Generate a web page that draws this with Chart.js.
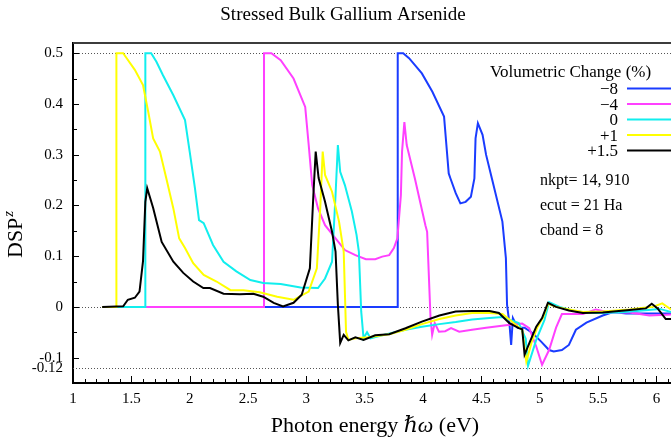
<!DOCTYPE html>
<html lang="en">
<head>
<meta charset="UTF-8"/>
<title>Stressed Bulk Gallium Arsenide</title>
<script src="https://cdn.jsdelivr.net/npm/chart.js@4"></script>
<style>
    html, body { margin: 0; padding: 0; background: #fff; }
    #grafico { display: block; }
</style>
</head>
<body>
<canvas id="grafico" width="671" height="445"></canvas>
<script>
// values (photon energy in eV, DSP^z)
const energyM8 = [1.25, 3.783, 3.783, 3.83, 3.88, 3.99, 4.08, 4.18, 4.20, 4.22, 4.235, 4.28, 4.32, 4.365, 4.41, 4.44, 4.45, 4.47, 4.51, 4.54, 4.59, 4.68, 4.71, 4.72, 4.74, 4.755, 4.77, 4.81, 4.87, 4.94, 5.01, 5.08, 5.12, 5.19, 5.25, 5.31, 5.40, 5.54, 5.63, 5.74, 5.94, 6.125];
const dspM8 = [0, 0, 0.5, 0.5, 0.49, 0.46, 0.424, 0.375, 0.319, 0.263, 0.253, 0.224, 0.204, 0.207, 0.217, 0.253, 0.332, 0.362, 0.339, 0.3, 0.253, 0.168, 0.096, 0.004, -0.032, -0.075, -0.022, -0.041, -0.041, -0.052, -0.068, -0.085, -0.088, -0.085, -0.075, -0.045, -0.031, -0.017, -0.01, -0.013, -0.013, -0.013];

const energyM4 = [1.25, 2.637, 2.637, 2.70, 2.78, 2.89, 2.99, 3.02, 3.05, 3.10, 3.16, 3.25, 3.33, 3.42, 3.51, 3.59, 3.65, 3.71, 3.75, 3.78, 3.81, 3.82, 3.84, 3.86, 3.93, 4.02, 4.035, 4.064, 4.078, 4.10, 4.136, 4.19, 4.24, 4.31, 4.42, 4.54, 4.71, 4.85, 4.91, 4.97, 5.02, 5.08, 5.14, 5.19, 5.37, 5.48, 5.60, 5.77, 5.94, 6.125];
const dspM4 = [0, 0, 0.5, 0.5, 0.486, 0.45, 0.394, 0.319, 0.24, 0.194, 0.161, 0.135, 0.112, 0.102, 0.094, 0.094, 0.099, 0.102, 0.116, 0.135, 0.22, 0.306, 0.364, 0.319, 0.253, 0.161, 0.148, -0.022, -0.055, -0.032, -0.049, -0.048, -0.042, -0.049, -0.045, -0.041, -0.036, -0.033, -0.042, -0.078, -0.114, -0.085, -0.041, -0.014, -0.014, -0.005, -0.011, -0.011, -0.017, -0.015];

const energyZero = [1.25, 1.62, 1.62, 1.67, 1.715, 1.77, 1.86, 1.96, 2.0, 2.045, 2.08, 2.12, 2.20, 2.29, 2.40, 2.52, 2.63, 2.78, 2.95, 3.1, 3.16, 3.22, 3.25, 3.27, 3.29, 3.33, 3.39, 3.43, 3.45, 3.47, 3.49, 3.52, 3.55, 3.65, 3.85, 3.99, 4.14, 4.28, 4.42, 4.57, 4.68, 4.82, 4.88, 4.90, 4.97, 5.04, 5.08, 5.17, 5.31, 5.48, 5.68, 5.88, 6.03, 6.125];
const dspZero = [0, 0, 0.5, 0.5, 0.483, 0.457, 0.417, 0.368, 0.306, 0.234, 0.171, 0.165, 0.122, 0.089, 0.07, 0.053, 0.047, 0.045, 0.038, 0.037, 0.056, 0.089, 0.22, 0.319, 0.266, 0.24, 0.188, 0.142, 0.109, -0.009, -0.062, -0.05, -0.062, -0.056, -0.045, -0.039, -0.034, -0.03, -0.025, -0.022, -0.02, -0.032, -0.063, -0.116, -0.065, -0.026, 0.0095, 0, -0.009, -0.012, -0.011, -0.007, -0.004, -0.01];

const energyP1 = [1.25, 1.372, 1.372, 1.43, 1.46, 1.53, 1.60, 1.645, 1.687, 1.745, 1.80, 1.86, 1.91, 1.96, 2.03, 2.12, 2.23, 2.35, 2.46, 2.60, 2.75, 2.89, 3.02, 3.09, 3.12, 3.14, 3.16, 3.22, 3.28, 3.32, 3.34, 3.36, 3.42, 3.53, 3.71, 3.85, 3.99, 4.14, 4.28, 4.42, 4.57, 4.68, 4.74, 4.82, 4.85, 4.885, 4.93, 4.98, 5.03, 5.07, 5.14, 5.25, 5.37, 5.54, 5.77, 5.91, 5.97, 6.05, 6.125];
const dspP1 = [0, 0, 0.5, 0.5, 0.49, 0.467, 0.437, 0.384, 0.332, 0.306, 0.253, 0.194, 0.135, 0.116, 0.086, 0.063, 0.05, 0.033, 0.033, 0.029, 0.02, 0.014, 0.03, 0.076, 0.2, 0.306, 0.26, 0.227, 0.168, 0.109, -0.049, -0.065, -0.062, -0.06, -0.054, -0.045, -0.034, -0.024, -0.017, -0.012, -0.012, -0.014, -0.025, -0.04, -0.045, -0.108, -0.07, -0.04, -0.02, 0.006, 0.0, -0.005, -0.01, -0.009, -0.005, -0.001, 0.0, 0.007, -0.005];

const energyP15 = [1.25, 1.43, 1.47, 1.53, 1.57, 1.60, 1.62, 1.636, 1.687, 1.76, 1.86, 1.945, 2.03, 2.117, 2.174, 2.29, 2.43, 2.546, 2.63, 2.72, 2.80, 2.89, 2.96, 3.03, 3.06, 3.08, 3.105, 3.16, 3.22, 3.25, 3.27, 3.29, 3.32, 3.36, 3.42, 3.49, 3.59, 3.71, 3.85, 3.99, 4.14, 4.28, 4.42, 4.57, 4.65, 4.74, 4.82, 4.85, 4.87, 4.91, 4.97, 5.02, 5.07, 5.14, 5.25, 5.37, 5.54, 5.77, 5.91, 5.96, 6.01, 6.08, 6.125];
const dspP15 = [0, 0.001, 0.014, 0.018, 0.03, 0.09, 0.207, 0.234, 0.195, 0.128, 0.089, 0.067, 0.05, 0.037, 0.037, 0.026, 0.025, 0.026, 0.02, 0.008, 0.001, 0.008, 0.024, 0.076, 0.22, 0.306, 0.254, 0.207, 0.148, 0.109, 0.004, -0.071, -0.055, -0.066, -0.06, -0.065, -0.056, -0.054, -0.042, -0.029, -0.017, -0.009, -0.008, -0.008, -0.012, -0.032, -0.042, -0.044, -0.094, -0.072, -0.039, -0.022, 0.008, 0.0, -0.007, -0.012, -0.011, -0.006, -0.003, 0.006, -0.003, -0.024, -0.024];

const seriesLabels = ['\u22128', '\u22124', '0', '+1', '+1.5'];
const xTicks = [1, 1.5, 2, 2.5, 3, 3.5, 4, 4.5, 5, 5.5, 6];
const yTicks = [-0.12, -0.1, 0, 0.1, 0.2, 0.3, 0.4, 0.5];
const dottedLevels = [0.5, 0, -0.12];
const notes = ['nkpt= 14, 910', 'ecut = 21 Ha', 'cband = 8'];

const serif = '"Liberation Serif", "DejaVu Serif", serif';
const cores = ['#1a3cff', '#ff40ff', '#11eeee', '#ffff00', '#000000'];

function pontos(xs, ys) {
    return xs.map((x, i) => ({ x: x, y: ys[i] }));
}

const series = [
    pontos(energyM8, dspM8),
    pontos(energyM4, dspM4),
    pontos(energyZero, dspZero),
    pontos(energyP1, dspP1),
    pontos(energyP15, dspP15)
];

// black last in the legend but drawn on top
const datasets = series.map((data, i) => ({
    label: seriesLabels[i],
    data: data,
    borderColor: cores[i],
    backgroundColor: cores[i],
    borderWidth: 2,
    pointRadius: 0,
    tension: 0,
    fill: false,
    order: series.length - i
}));

// dotted levels, inner tick marks and top border
const moldura = {
    id: 'moldura',
    beforeDatasetsDraw(chart) {
        const { ctx, chartArea: a, scales: { x, y } } = chart;
        ctx.save();
        ctx.strokeStyle = '#555';
        ctx.lineWidth = 1;
        ctx.setLineDash([1, 2]);
        dottedLevels.forEach(v => {
            const py = Math.round(y.getPixelForValue(v)) + 0.5;
            ctx.beginPath();
            ctx.moveTo(a.left, py);
            ctx.lineTo(a.right, py);
            ctx.stroke();
        });
        ctx.setLineDash([]);
        ctx.strokeStyle = '#000';
        for (let k = 1; k <= 51; k++) {
            const v = 1 + k / 10;
            const px = Math.round(x.getPixelForValue(v)) + 0.5;
            const len = (k % 5 === 0) ? 7 : 4;
            ctx.beginPath();
            ctx.moveTo(px, a.bottom);
            ctx.lineTo(px, a.bottom - len);
            ctx.stroke();
        }
        for (let k = -2; k <= 10; k++) {
            const py = Math.round(y.getPixelForValue(k * 0.05)) + 0.5;
            const len = (k % 2 === 0) ? 6 : 4;
            ctx.beginPath();
            ctx.moveTo(a.left, py);
            ctx.lineTo(a.left + len, py);
            ctx.stroke();
        }
        ctx.restore();
    },
    afterDraw(chart) {
        const { ctx, chartArea: a } = chart;
        ctx.save();
        ctx.strokeStyle = '#3c3c3c';
        ctx.lineWidth = 2;
        ctx.beginPath();
        ctx.moveTo(a.left, a.top);
        ctx.lineTo(a.right, a.top);
        ctx.stroke();
        ctx.restore();
    }
};

// titles, legend and run parameters
const textos = {
    id: 'textos',
    afterDraw(chart) {
        const ctx = chart.ctx;
        ctx.save();
        ctx.fillStyle = '#000';
        ctx.textBaseline = 'alphabetic';

        ctx.font = '19px ' + serif;
        ctx.textAlign = 'center';
        ctx.fillText('Stressed Bulk Gallium Arsenide', 343, 19.5);

        // x axis title with italic hbar omega
        const partes = [['Photon energy ', ''], ['\u210F\u03C9', 'italic '], [' (eV)', '']];
        let total = 0;
        partes.forEach(p => { ctx.font = p[1] + '22px ' + serif; total += ctx.measureText(p[0]).width; });
        let px = 375 - total / 2;
        ctx.textAlign = 'left';
        partes.forEach(p => {
            ctx.font = p[1] + '22px ' + serif;
            ctx.fillText(p[0], px, 432);
            px += ctx.measureText(p[0]).width;
        });

        // y axis title DSP^z
        ctx.save();
        ctx.translate(22, 258);
        ctx.rotate(-Math.PI / 2);
        ctx.font = '22px ' + serif;
        ctx.fillText('DSP', 0, 0);
        const w = ctx.measureText('DSP').width;
        ctx.font = 'italic 15px ' + serif;
        ctx.fillText('z', w + 1, -9);
        ctx.restore();

        // legend
        ctx.font = '17px ' + serif;
        ctx.textAlign = 'left';
        ctx.fillText('Volumetric Change (%)', 490, 77);
        ctx.textAlign = 'right';
        chart.data.datasets.forEach((ds, i) => {
            const ly = 88.5 + i * 15.5;
            ctx.fillText(ds.label, 618, ly + 5.5);
            ctx.strokeStyle = ds.borderColor;
            ctx.lineWidth = 2;
            ctx.beginPath();
            ctx.moveTo(627, ly);
            ctx.lineTo(675, ly);
            ctx.stroke();
        });

        ctx.font = '16px ' + serif;
        ctx.textAlign = 'left';
        notes.forEach((t, i) => {
            ctx.fillText(t, 540, 185 + i * 25);
        });
        ctx.restore();
    }
};

const config = {
    type: 'line',
    data: { datasets: datasets },
    options: {
        responsive: false,
        animation: false,
        events: [],
        layout: { padding: { top: 43, right: 0, bottom: 0, left: 0 } },
        plugins: {
            legend: { display: false },
            title: { display: false },
            tooltip: { enabled: false }
        },
        scales: {
            x: {
                type: 'linear',
                min: 1,
                max: 6.125,
                afterBuildTicks: scale => { scale.ticks = xTicks.map(v => ({ value: v })); },
                afterFit: scale => { scale.height = 62; },
                ticks: {
                    autoSkip: false,
                    maxRotation: 0,
                    padding: 7,
                    color: '#000',
                    font: { family: serif, size: 15 },
                    callback: v => String(v)
                },
                grid: { display: false, drawTicks: false },
                border: { display: true, color: '#000', width: 2 }
            },
            y: {
                type: 'linear',
                min: -0.15,
                max: 0.52,
                afterBuildTicks: scale => { scale.ticks = yTicks.map(v => ({ value: v })); },
                afterFit: scale => { scale.width = 73; },
                ticks: {
                    autoSkip: false,
                    padding: 10,
                    color: '#000',
                    font: { family: serif, size: 15 },
                    callback: v => String(v)
                },
                grid: { display: false, drawTicks: false },
                border: { display: true, color: '#000', width: 2 }
            }
        }
    },
    plugins: [moldura, textos]
};

new Chart(document.getElementById('grafico').getContext('2d'), config);
</script>
</body>
</html>
